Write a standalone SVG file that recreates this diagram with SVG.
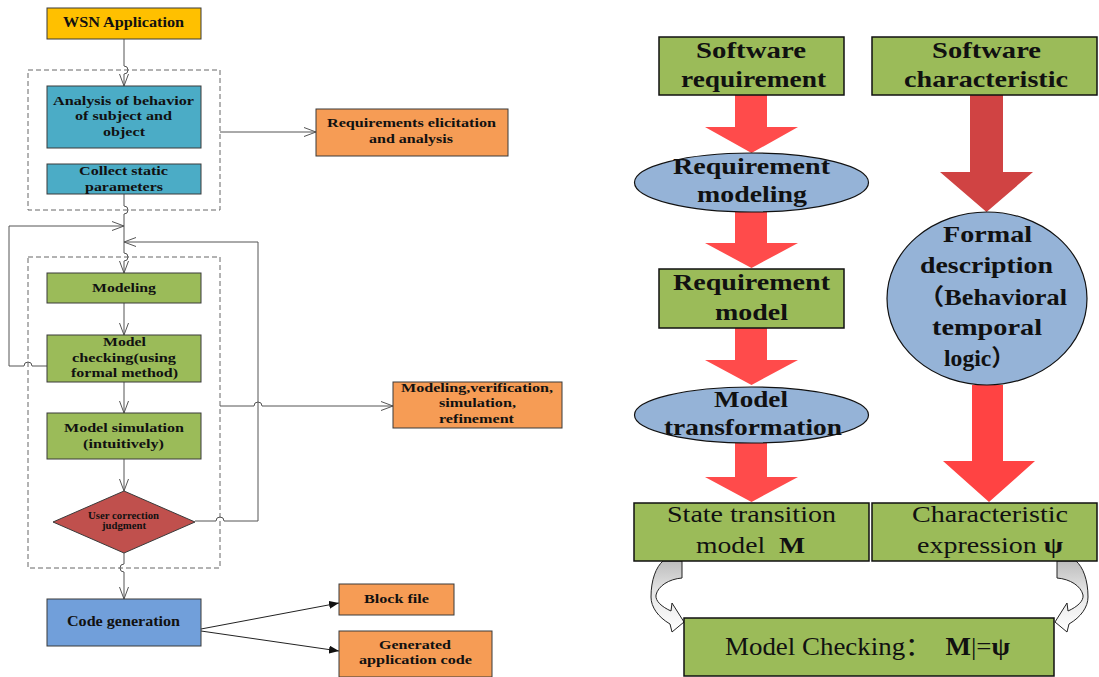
<svg xmlns="http://www.w3.org/2000/svg" width="1099" height="677" viewBox="0 0 1099 677">
<defs>
<style>
.t{font-family:"Liberation Serif","Noto Sans CJK SC",serif;font-weight:bold;text-anchor:middle;fill:#111}
.s13{font-size:13px}
.s9{font-size:9.5px}
.r23{font-size:23px}
.reg{font-weight:normal}
.box{stroke:#3a3a3a;stroke-width:1}
.rbox{stroke:#111;stroke-width:1.5}
.dash{fill:none;stroke:#666;stroke-width:1;stroke-dasharray:5,3}
.ln{fill:none;stroke:#555;stroke-width:1}
.ln2{fill:none;stroke:#222;stroke-width:1}
.red{fill:#FF4B4B}
.ell{fill:#95B3D7;stroke:#111;stroke-width:1.2}
.curv{fill:url(#gg);stroke:#222;stroke-width:1}
</style>
<marker id="open" viewBox="0 0 12 10" refX="12" refY="5" markerWidth="12" markerHeight="10" markerUnits="userSpaceOnUse" orient="auto">
<path d="M0,0.5 L12,5 L0,9.5" fill="none" stroke="#555" stroke-width="1"/>
</marker>
<marker id="fill" viewBox="0 0 10 8" refX="10" refY="4" markerWidth="10" markerHeight="8" markerUnits="userSpaceOnUse" orient="auto">
<path d="M0,0 L10,4 L0,8 z" fill="#111"/>
</marker>
<linearGradient id="gg" x1="0" y1="0" x2="0" y2="1">
<stop offset="0" stop-color="#BDBDBD"/>
<stop offset="0.45" stop-color="#E6E6E6"/>
<stop offset="1" stop-color="#FFFFFF"/>
</linearGradient>
<path id="carrow" d="M663,561 H682 V578 C669,579 658,586 656,595 C655,601 662,607 671,611 L672,603 L684,622 L672,632 L670,624 C658,617 651,607 651,597 C651,580 656,567 663,561 Z"/>
</defs>
<rect width="1099" height="677" fill="#fff"/>

<!-- dashed group boxes -->
<rect class="dash" x="28" y="70" width="192" height="140"/>
<rect class="dash" x="28" y="257" width="192" height="311"/>

<!-- connectors -->
<g id="connectors">
<path class="ln" d="M124,39 V66 a4,4 0 0 1 0,8 V86" marker-end="url(#open)"/>
<path class="ln" d="M124,194 V206 a4,4 0 0 1 0,8 V253 a4,4 0 0 1 0,8 V273" marker-end="url(#open)"/>
<path class="ln" d="M47,366 H32 a4,4 0 0 0 -8,0 H9 V226 H124" marker-end="url(#open)"/>
<path class="ln" d="M195,521 H216 a4,4 0 0 1 8,0 H258 V242 H124" marker-end="url(#open)"/>
<path class="ln" d="M124,303 V335" marker-end="url(#open)"/>
<path class="ln" d="M124,382 V413" marker-end="url(#open)"/>
<path class="ln" d="M124,459 V491" marker-end="url(#open)"/>
<path class="ln" d="M124,553 V564 a4,4 0 0 0 0,8 V599" marker-end="url(#open)"/>
<path class="ln" d="M220,132 H316" marker-end="url(#open)"/>
<path class="ln" d="M220,406 H254 a4,4 0 0 1 8,0 H393" marker-end="url(#open)"/>
<path class="ln2" d="M201,629 L339,603" marker-end="url(#fill)"/>
<path class="ln2" d="M201,631 L339,651" marker-end="url(#fill)"/>

<!-- right side block arrows -->
<polygon class="red" points="735,95 767,95 767,127 798,127 751.5,153 705,127 735,127"/>
<polygon class="red" points="735,212 767,212 767,243 798,243 751.5,268 705,243 735,243"/>
<polygon class="red" points="735,328 767,328 767,360 798,360 751.5,385 705,360 735,360"/>
<polygon class="red" points="735,443 767,443 767,477 798,477 751.5,502 705,477 735,477"/>
<polygon fill="#D04343" points="970,95 1003,95 1003,172 1033,172 986.5,212 940,172 970,172"/>
<polygon fill="#FF4343" points="972,385 1003,385 1003,461 1035,461 989,502 943,461 972,461"/>

<!-- curved arrows -->
<use href="#carrow" class="curv"/>
<use href="#carrow" class="curv" transform="translate(1739,0) scale(-1,1)"/>
</g>

<!-- left flowchart nodes -->
<g id="wsn">
<rect class="box" x="47" y="8" width="154" height="31" fill="#FFC000"/>
<text class="t" x="123.5" y="27" font-size="14" textLength="121" lengthAdjust="spacingAndGlyphs">WSN Application</text>
</g>
<g id="analysis">
<rect class="box" x="47" y="86" width="154" height="62" fill="#4BACC6"/>
<text class="t s13" x="123.5" y="105" textLength="141" lengthAdjust="spacingAndGlyphs">Analysis of behavior</text>
<text class="t s13" x="123.5" y="120" textLength="97" lengthAdjust="spacingAndGlyphs">of subject and</text>
<text class="t s13" x="124" y="136" textLength="42" lengthAdjust="spacingAndGlyphs">object</text>
</g>
<g id="collect">
<rect class="box" x="47" y="164" width="154" height="30" fill="#4BACC6"/>
<text class="t s13" x="123.5" y="175" textLength="89" lengthAdjust="spacingAndGlyphs">Collect static</text>
<text class="t s13" x="124" y="191" textLength="78" lengthAdjust="spacingAndGlyphs">parameters</text>
</g>
<g id="modeling">
<rect class="box" x="47" y="273" width="154" height="30" fill="#9BBB59"/>
<text class="t s13" x="124" y="292" textLength="64" lengthAdjust="spacingAndGlyphs">Modeling</text>
</g>
<g id="checking">
<rect class="box" x="47" y="335" width="154" height="47" fill="#9BBB59"/>
<text class="t s13" x="124.5" y="346" textLength="43" lengthAdjust="spacingAndGlyphs">Model</text>
<text class="t s13" x="124" y="362" textLength="104" lengthAdjust="spacingAndGlyphs">checking(using</text>
<text class="t s13" x="124.5" y="377" textLength="107" lengthAdjust="spacingAndGlyphs">formal method)</text>
</g>
<g id="simulation">
<rect class="box" x="47" y="413" width="154" height="46" fill="#9BBB59"/>
<text class="t s13" x="124" y="432" textLength="120" lengthAdjust="spacingAndGlyphs">Model simulation</text>
<text class="t s13" x="123.5" y="448" textLength="81" lengthAdjust="spacingAndGlyphs">(intuitively)</text>
</g>
<g id="judgment">
<polygon class="box" points="124,491 195,522 124,553 53,522" fill="#C0504D"/>
<text class="t s9" x="123.5" y="519" textLength="71" lengthAdjust="spacingAndGlyphs">User correction</text>
<text class="t s9" x="124" y="529" textLength="44" lengthAdjust="spacingAndGlyphs">judgment</text>
</g>
<g id="codegen">
<rect class="box" x="47" y="599" width="154" height="47" fill="#719FDA"/>
<text class="t" x="123.5" y="626" font-size="14.5" textLength="113" lengthAdjust="spacingAndGlyphs">Code generation</text>
</g>
<g id="requirements">
<rect class="box" x="316" y="109" width="192" height="47" fill="#F69C55"/>
<text class="t s13" x="411.5" y="127" textLength="169" lengthAdjust="spacingAndGlyphs">Requirements elicitation</text>
<text class="t s13" x="411" y="143" textLength="84" lengthAdjust="spacingAndGlyphs">and analysis</text>
</g>
<g id="mvsr">
<rect class="box" x="393" y="382" width="169" height="46" fill="#F69C55"/>
<text class="t s13" x="477" y="392" textLength="152" lengthAdjust="spacingAndGlyphs">Modeling,verification,</text>
<text class="t s13" x="477.5" y="407" textLength="77" lengthAdjust="spacingAndGlyphs">simulation,</text>
<text class="t s13" x="476.5" y="423" textLength="75" lengthAdjust="spacingAndGlyphs">refinement</text>
</g>
<g id="blockfile">
<rect class="box" x="339" y="584" width="115" height="31" fill="#F69C55"/>
<text class="t s13" x="396.5" y="603" textLength="65" lengthAdjust="spacingAndGlyphs">Block file</text>
</g>
<g id="gencode">
<rect class="box" x="339" y="631" width="153" height="46" fill="#F69C55"/>
<text class="t s13" x="415" y="649" textLength="72" lengthAdjust="spacingAndGlyphs">Generated</text>
<text class="t s13" x="415.5" y="664" textLength="113" lengthAdjust="spacingAndGlyphs">application code</text>
</g>

<!-- right side nodes -->
<g id="swreq">
<rect class="rbox" x="659" y="37" width="185" height="58" fill="#9BBB59"/>
<text class="t r23" x="751" y="58" textLength="110" lengthAdjust="spacingAndGlyphs">Software</text>
<text class="t r23" x="753.5" y="87" textLength="145" lengthAdjust="spacingAndGlyphs">requirement</text>
</g>
<g id="swchar">
<rect class="rbox" x="872" y="37" width="225" height="58" fill="#9BBB59"/>
<text class="t r23" x="986.5" y="58" textLength="109" lengthAdjust="spacingAndGlyphs">Software</text>
<text class="t r23" x="986" y="87" textLength="164" lengthAdjust="spacingAndGlyphs">characteristic</text>
</g>
<g id="reqmodeling">
<ellipse class="ell" cx="751.5" cy="182.5" rx="117" ry="29.5"/>
<text class="t r23" x="751.5" y="174" textLength="157" lengthAdjust="spacingAndGlyphs">Requirement</text>
<text class="t r23" x="752" y="202" textLength="110" lengthAdjust="spacingAndGlyphs">modeling</text>
</g>
<g id="formal">
<ellipse class="ell" cx="987" cy="298.5" rx="100" ry="86.5"/>
<text class="t r23" x="987.5" y="242" textLength="89" lengthAdjust="spacingAndGlyphs">Formal</text>
<text class="t r23" x="986.5" y="273" textLength="133" lengthAdjust="spacingAndGlyphs">description</text>
<text class="t r23" x="992.5" y="305" textLength="149" lengthAdjust="spacingAndGlyphs">（Behavioral</text>
<text class="t r23" x="987" y="335" textLength="110" lengthAdjust="spacingAndGlyphs">temporal</text>
<text class="t r23" x="979.5" y="366" textLength="71" lengthAdjust="spacingAndGlyphs">logic）</text>
</g>
<g id="reqmodel">
<rect class="rbox" x="659" y="269" width="185" height="59" fill="#9BBB59"/>
<text class="t r23" x="751.5" y="290" textLength="157" lengthAdjust="spacingAndGlyphs">Requirement</text>
<text class="t r23" x="751.5" y="320" textLength="73" lengthAdjust="spacingAndGlyphs">model</text>
</g>
<g id="modeltrans">
<ellipse class="ell" cx="751.5" cy="415" rx="117" ry="28"/>
<text class="t r23" x="751" y="407" textLength="74" lengthAdjust="spacingAndGlyphs">Model</text>
<text class="t r23" x="753" y="435" textLength="178" lengthAdjust="spacingAndGlyphs">transformation</text>
</g>
<g id="statemodel">
<rect class="rbox" x="634" y="503" width="235" height="58" fill="#9BBB59"/>
<text class="t reg" font-size="24" x="751.5" y="522" textLength="169" lengthAdjust="spacingAndGlyphs">State transition</text>
<text class="t reg" font-size="24" x="750.5" y="553" textLength="109" lengthAdjust="spacingAndGlyphs">model&#160; <tspan font-weight="bold">M</tspan></text>
</g>
<g id="charexpr">
<rect class="rbox" x="872" y="503" width="225" height="58" fill="#9BBB59"/>
<text class="t reg" font-size="24" x="990" y="522" textLength="156" lengthAdjust="spacingAndGlyphs">Characteristic</text>
<text class="t reg" font-size="24" x="990" y="553" textLength="146" lengthAdjust="spacingAndGlyphs">expression <tspan font-weight="bold">ψ</tspan></text>
</g>
<g id="modelchecking">
<rect class="rbox" x="684" y="618" width="370" height="58" fill="#9BBB59"/>
<text class="t reg" font-size="25" x="867.5" y="655" textLength="285" lengthAdjust="spacingAndGlyphs">Model Checking：&#160; <tspan font-weight="bold">M</tspan>|=<tspan font-weight="bold">ψ</tspan></text>
</g>
</svg>
